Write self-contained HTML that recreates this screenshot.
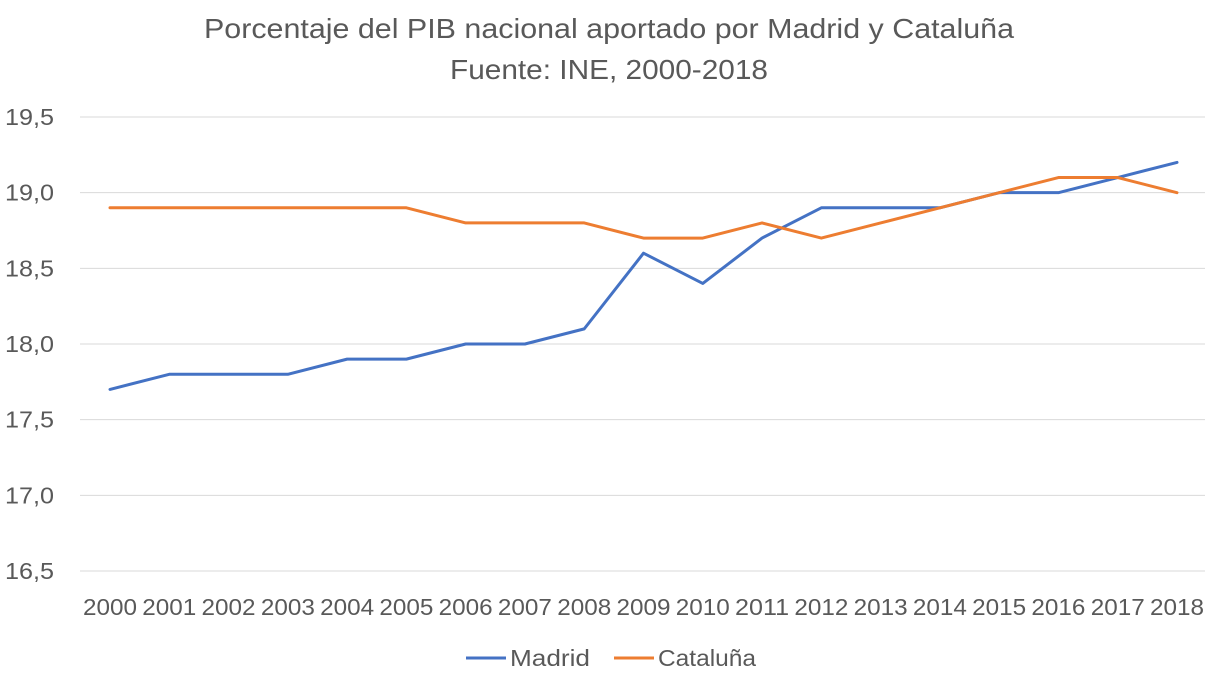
<!DOCTYPE html>
<html><head><meta charset="utf-8"><style>
body{margin:0;background:#fff;font-family:"Liberation Sans",sans-serif;}
svg text{font-family:"Liberation Sans",sans-serif;fill:#595959;}
</style></head><body>
<svg width="1215" height="680">
<text x="609" y="38" text-anchor="middle" font-size="28" textLength="810" lengthAdjust="spacingAndGlyphs">Porcentaje del PIB nacional aportado por Madrid y Cataluña</text>
<text x="609" y="79" text-anchor="middle" font-size="28" textLength="318" lengthAdjust="spacingAndGlyphs">Fuente: INE, 2000-2018</text>
<g id="grid"></g><g id="ylab"></g><g id="xlab"></g><g id="lines"></g>
<g>
<line x1="466" y1="658" x2="506" y2="658" stroke="#4472C4" stroke-width="3"/>
<text x="510" y="666" font-size="23" textLength="80" lengthAdjust="spacingAndGlyphs">Madrid</text>
<line x1="614" y1="658" x2="654" y2="658" stroke="#ED7D31" stroke-width="3"/>
<text x="658" y="666" font-size="23" textLength="98" lengthAdjust="spacingAndGlyphs">Cataluña</text>
</g>
</svg>
<script>
const years=[2000,2001,2002,2003,2004,2005,2006,2007,2008,2009,2010,2011,2012,2013,2014,2015,2016,2017,2018];
const madrid=[17.7,17.8,17.8,17.8,17.9,17.9,18.0,18.0,18.1,18.6,18.4,18.7,18.9,18.9,18.9,19.0,19.0,19.1,19.2];
const cataluna=[18.9,18.9,18.9,18.9,18.9,18.9,18.8,18.8,18.8,18.7,18.7,18.8,18.7,18.8,18.9,19.0,19.1,19.1,19.0];
const yTicks=[16.5,17.0,17.5,18.0,18.5,19.0,19.5];
const NS="http://www.w3.org/2000/svg";
const x=i=>110+i*(1177-110)/18;
const y=v=>571-(v-16.5)/3*454;
function mk(t,a,p){const e=document.createElementNS(NS,t);for(const k in a)e.setAttribute(k,a[k]);p.appendChild(e);return e;}
const g=document.getElementById('grid'),yl=document.getElementById('ylab'),xl=document.getElementById('xlab'),ln=document.getElementById('lines');
yTicks.forEach(v=>{
 const l=mk('line',{x1:80,x2:1205,y1:y(v),y2:y(v),stroke:'#d9d9d9','stroke-width':1},g);
 
 
 const t=mk('text',{x:5,y:y(v)+8,'font-size':23,textLength:49,lengthAdjust:'spacingAndGlyphs'},yl);t.textContent=v.toFixed(1).replace('.',',');
 
 
});
years.forEach((yr,i)=>{
 const t=mk('text',{x:x(i),y:615,'font-size':23,'text-anchor':'middle',textLength:54,lengthAdjust:'spacingAndGlyphs'},xl);t.textContent=yr;
 
 
});
[[madrid,'#4472C4','madrid-line'],[cataluna,'#ED7D31','cataluna-line']].forEach(([d,c,n])=>{
 const p=mk('polyline',{points:d.map((v,i)=>x(i)+','+y(v)).join(' '),fill:'none',stroke:c,'stroke-width':3,'stroke-linejoin':'round','stroke-linecap':'round'},ln);
 
 
});
</script>
</body></html>
